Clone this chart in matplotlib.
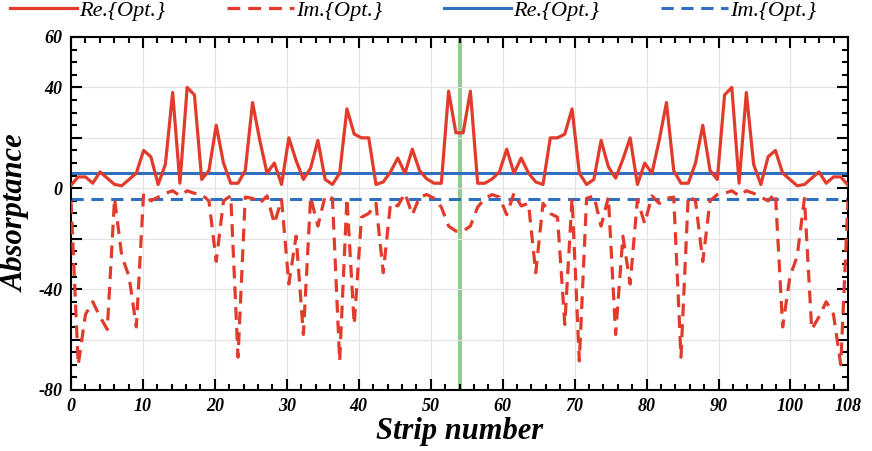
import numpy as np
import matplotlib
matplotlib.use("Agg")
import matplotlib.pyplot as plt
from matplotlib.ticker import MultipleLocator

# absorptance per strip
re_opt = [1.2, 4.5, 4.5, 2, 6.5, 4, 1.5, 1, 3.5, 6,
          15, 12.5, 1.5, 9.5, 38, 2, 40, 37, 3.5, 7,
          25, 10, 2, 2, 7, 34, 19, 6, 10, 1.5,
          20, 11, 3.5, 8, 19, 3.5, 1.5, 6, 31.5, 21.5,
          20, 20, 1.5, 2.5, 6.5, 12, 6, 15.5, 7, 3.7,
          2, 2, 38.5, 22, 22, 38.5, 2, 2, 3.7, 6.5,
          15.5, 6, 12, 6, 2.5, 1.5, 20, 20, 21.5, 31.5,
          6, 1.5, 3.5, 19, 8.5, 4, 11.5, 20, 1.5, 10,
          6, 19, 34, 7, 2, 2, 10, 25, 7, 3.5,
          37, 40, 2, 38, 9.5, 1.5, 12.5, 15, 6, 3.5,
          1, 1.5, 4, 6.5, 2, 4.5, 4.5, 1.2]
im_opt = [-5, -70, -50, -45, -51, -56, -4, -27, -35, -55,
          -2, -5, -3.5, -2, -1, -3, -1, -2, -2.5, -5,
          -29, -5, -3, -67, -3.5, -4, -6, -3, -14, -4.5,
          -38, -19, -58, -3.5, -15, -3, -4, -68.5, -4, -54,
          -11.5, -10, -6, -33.5, -6, -7, -2, -10.5, -3.5, -2.5,
          -4, -7.5, -15, -17, -17, -15, -7.5, -4, -2.5, -3.5,
          -10.5, -2, -7, -6, -33.5, -6, -10, -11.5, -54, -4,
          -68.5, -4, -3, -15, -3.5, -58, -19, -38, -4.5, -14,
          -3, -6, -4, -3.5, -67, -3, -5, -29, -5, -2.5,
          -2, -1, -3, -1, -2, -3.5, -5, -2, -55, -35,
          -27, -4, -56, -51, -45, -50, -70, -5]
re_ref = 6.0
im_ref = -4.3
marker_strip = 54

labels = ["Re.{Opt.}", "Im.{Opt.}", "Re.{Opt.}", "Im.{Opt.}"]
xticks = [0, 10, 20, 30, 40, 50, 60, 70, 80, 90, 100, 108]
yticks = [-80, -60, -40, -20, 0, 20, 40, 60]
ytick_labels = ["-80", "", "-40", "", "0", "", "40", "60"]

red = "#e23b2c"
blue = "#2e6fc0"
serif = "Liberation Serif"

fig = plt.figure(figsize=(8.72, 4.51), dpi=100)
ax = fig.add_axes([0.0814, 0.1353, 0.8911, 0.7827])

x = np.linspace(0, 108, len(re_opt))
ax.plot(x, re_opt, color=red, lw=2.3, label=labels[0], zorder=3)
ax.plot(x, im_opt, color=red, lw=2.3, ls=(0, (4, 2.5)), label=labels[1], zorder=3)
ax.axhline(re_ref, color=blue, lw=2.2, label=labels[2], zorder=2)
ax.axhline(im_ref, color=blue, lw=2.2, ls=(0, (4, 2.5)), label=labels[3], zorder=2)
ax.axvline(marker_strip, color="#93cc8e", lw=3, zorder=1)

ax.set_xlim(0, 108)
ax.set_ylim(-80, 60)
ax.set_xticks(xticks)
ax.set_yticks(yticks)
ax.set_yticklabels(ytick_labels)
ax.xaxis.set_minor_locator(MultipleLocator(2))
ax.yaxis.set_minor_locator(MultipleLocator(5))
ax.grid(True, which="major", color="#e3e3e3", lw=0.9, zorder=0)
ax.tick_params(which="both", direction="in", top=True, right=True, width=1.5)
ax.tick_params(which="major", length=8, pad=6)
ax.tick_params(which="minor", length=4)
for sp in ax.spines.values():
    sp.set_linewidth(1.5)
for lab in ax.get_xticklabels() + ax.get_yticklabels():
    lab.set_fontfamily(serif)
    lab.set_fontweight("bold")
    lab.set_fontstyle("italic")
    lab.set_fontsize(13)

ax.set_xlabel("Strip number", fontfamily=serif, fontweight="bold",
              fontstyle="italic", fontsize=22, labelpad=1)
ax.set_ylabel("Absorptance", fontfamily=serif, fontweight="bold",
              fontstyle="italic", fontsize=22, labelpad=6)

ax.legend(loc="lower center", bbox_to_anchor=(0.44, 1.02), ncol=4,
          frameon=False, handlelength=3, columnspacing=2.8, handletextpad=0.1,
          borderaxespad=0.0,
          prop={"family": serif, "style": "italic", "size": 16})

fig.savefig("out.png", dpi=100)
